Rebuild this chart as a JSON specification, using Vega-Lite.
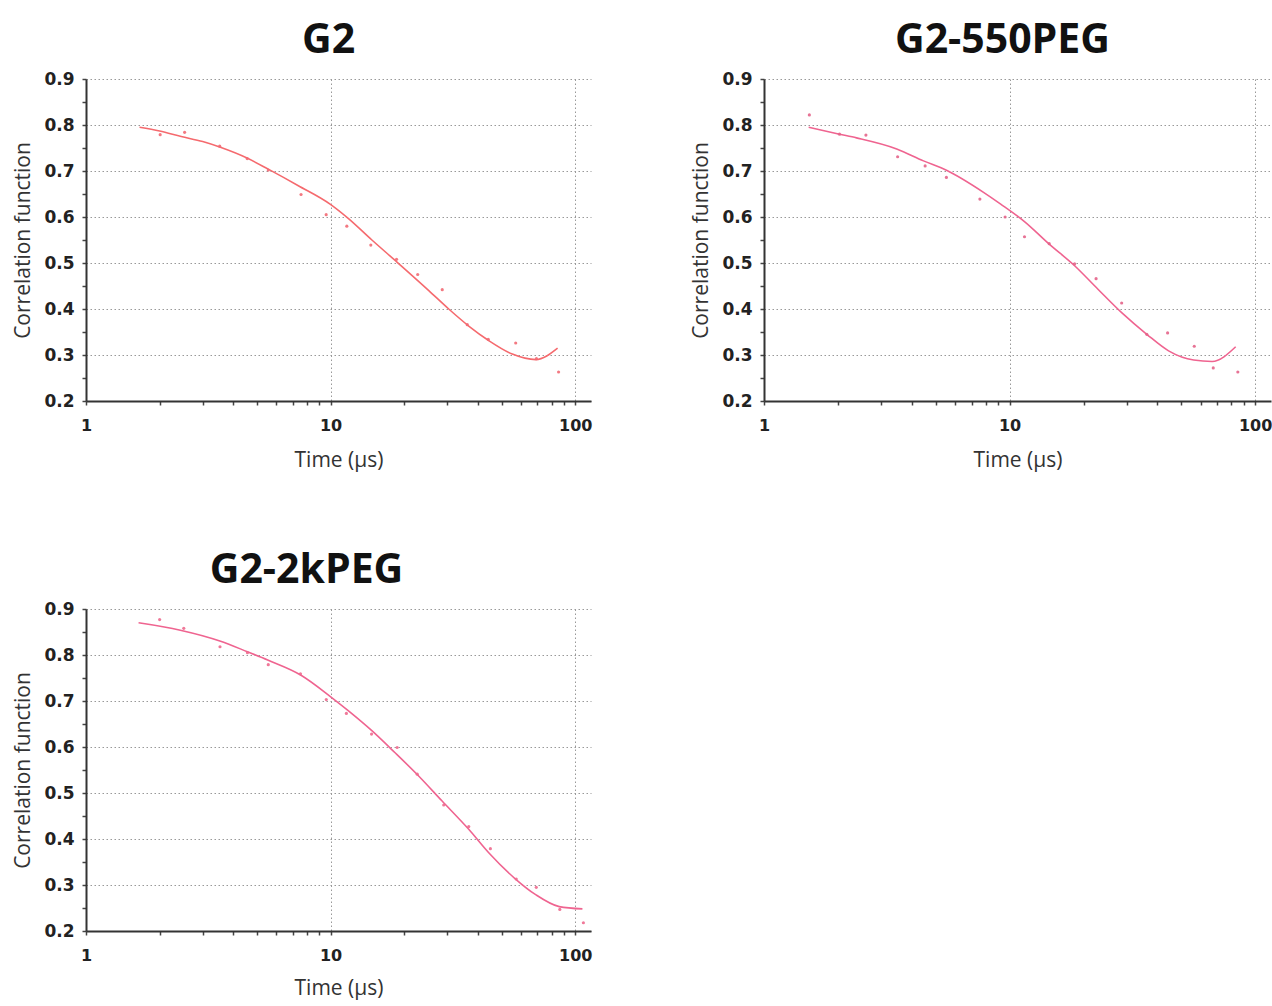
{
  "$schema": "https://vega.github.io/schema/vega-lite/v6.json",
  "background": "white",
  "padding": {"left": 12, "top": 20, "right": 0, "bottom": 2},
  "datasets": {
    "g2": [
      {"series": "fit", "t": 1.655, "g": 0.795}, {"series": "fit", "t": 2.0, "g": 0.787}, {"series": "fit", "t": 2.45, "g": 0.775},
      {"series": "fit", "t": 3.0, "g": 0.764},
      {"series": "fit", "t": 3.52, "g": 0.752}, {"series": "fit", "t": 4.6, "g": 0.727}, {"series": "fit", "t": 5.56, "g": 0.704},
      {"series": "fit", "t": 7.38, "g": 0.668}, {"series": "fit", "t": 9.95, "g": 0.628}, {"series": "fit", "t": 11.8, "g": 0.597},
      {"series": "fit", "t": 14.75, "g": 0.55}, {"series": "fit", "t": 18.4, "g": 0.505}, {"series": "fit", "t": 25.2, "g": 0.44},
      {"series": "fit", "t": 30.4, "g": 0.4}, {"series": "fit", "t": 36.7, "g": 0.363}, {"series": "fit", "t": 44.4, "g": 0.331},
      {"series": "fit", "t": 55.3, "g": 0.302}, {"series": "fit", "t": 69, "g": 0.29}, {"series": "fit", "t": 84.7, "g": 0.315},
      {"series": "data", "t": 2.01, "g": 0.779}, {"series": "data", "t": 2.53, "g": 0.784}, {"series": "data", "t": 3.52, "g": 0.754},
      {"series": "data", "t": 4.56, "g": 0.727}, {"series": "data", "t": 5.56, "g": 0.702}, {"series": "data", "t": 7.57, "g": 0.649},
      {"series": "data", "t": 9.59, "g": 0.605}, {"series": "data", "t": 11.65, "g": 0.58}, {"series": "data", "t": 14.6, "g": 0.539},
      {"series": "data", "t": 18.6, "g": 0.508}, {"series": "data", "t": 22.7, "g": 0.475}, {"series": "data", "t": 28.6, "g": 0.442},
      {"series": "data", "t": 36.2, "g": 0.366}, {"series": "data", "t": 44.1, "g": 0.334}, {"series": "data", "t": 57.1, "g": 0.326},
      {"series": "data", "t": 69.4, "g": 0.292}, {"series": "data", "t": 85.5, "g": 0.263}
    ],
    "g2_550": [
      {"series": "fit", "t": 1.52, "g": 0.795}, {"series": "fit", "t": 2.03, "g": 0.78}, {"series": "fit", "t": 2.38, "g": 0.772},
      {"series": "fit", "t": 3.47, "g": 0.748}, {"series": "fit", "t": 4.46, "g": 0.722}, {"series": "fit", "t": 5.56, "g": 0.701},
      {"series": "fit", "t": 7.86, "g": 0.653}, {"series": "fit", "t": 9.2, "g": 0.628}, {"series": "fit", "t": 11.5, "g": 0.59},
      {"series": "fit", "t": 14.5, "g": 0.541}, {"series": "fit", "t": 18.4, "g": 0.494}, {"series": "fit", "t": 22.9, "g": 0.443},
      {"series": "fit", "t": 28.6, "g": 0.392}, {"series": "fit", "t": 36.2, "g": 0.345}, {"series": "fit", "t": 44.4, "g": 0.309},
      {"series": "fit", "t": 56.2, "g": 0.289}, {"series": "fit", "t": 66.8, "g": 0.286}, {"series": "fit", "t": 83.3, "g": 0.318},
      {"series": "data", "t": 1.53, "g": 0.822}, {"series": "data", "t": 2.03, "g": 0.78}, {"series": "data", "t": 2.6, "g": 0.778},
      {"series": "data", "t": 3.5, "g": 0.731}, {"series": "data", "t": 4.53, "g": 0.711}, {"series": "data", "t": 5.53, "g": 0.686},
      {"series": "data", "t": 7.57, "g": 0.639}, {"series": "data", "t": 9.59, "g": 0.6}, {"series": "data", "t": 11.5, "g": 0.557},
      {"series": "data", "t": 14.5, "g": 0.542}, {"series": "data", "t": 18.4, "g": 0.498}, {"series": "data", "t": 22.5, "g": 0.466},
      {"series": "data", "t": 28.6, "g": 0.413}, {"series": "data", "t": 36.2, "g": 0.345}, {"series": "data", "t": 44, "g": 0.348},
      {"series": "data", "t": 56.5, "g": 0.319}, {"series": "data", "t": 67.5, "g": 0.272}, {"series": "data", "t": 85, "g": 0.263}
    ],
    "g2_2k": [
      {"series": "fit", "t": 1.64, "g": 0.87}, {"series": "fit", "t": 2.43, "g": 0.854}, {"series": "fit", "t": 3.55, "g": 0.83},
      {"series": "fit", "t": 4.57, "g": 0.807}, {"series": "fit", "t": 5.53, "g": 0.789}, {"series": "fit", "t": 7.57, "g": 0.756},
      {"series": "fit", "t": 10.07, "g": 0.708}, {"series": "fit", "t": 11.8, "g": 0.679}, {"series": "fit", "t": 14.7, "g": 0.636},
      {"series": "fit", "t": 18.3, "g": 0.588}, {"series": "fit", "t": 22.9, "g": 0.537}, {"series": "fit", "t": 28.5, "g": 0.483},
      {"series": "fit", "t": 36.7, "g": 0.421}, {"series": "fit", "t": 44.3, "g": 0.37}, {"series": "fit", "t": 57.0, "g": 0.313},
      {"series": "fit", "t": 68.9, "g": 0.279}, {"series": "fit", "t": 86, "g": 0.253}, {"series": "fit", "t": 107, "g": 0.248},
      {"series": "data", "t": 2.0, "g": 0.877}, {"series": "data", "t": 2.51, "g": 0.858}, {"series": "data", "t": 3.53, "g": 0.818},
      {"series": "data", "t": 4.57, "g": 0.805}, {"series": "data", "t": 5.56, "g": 0.779}, {"series": "data", "t": 7.53, "g": 0.759},
      {"series": "data", "t": 9.6, "g": 0.703}, {"series": "data", "t": 11.6, "g": 0.673}, {"series": "data", "t": 14.7, "g": 0.628},
      {"series": "data", "t": 18.7, "g": 0.599}, {"series": "data", "t": 22.6, "g": 0.541}, {"series": "data", "t": 29, "g": 0.474},
      {"series": "data", "t": 36.7, "g": 0.427}, {"series": "data", "t": 45, "g": 0.379}, {"series": "data", "t": 57.4, "g": 0.313},
      {"series": "data", "t": 69.3, "g": 0.295}, {"series": "data", "t": 86.5, "g": 0.247}, {"series": "data", "t": 108, "g": 0.218}
    ]
  },
  "config": {
    "view": {"stroke": null},
    "font": "Open Sans",
    "title": {"fontSize": 41, "fontWeight": "bold", "font": "Open Sans", "color": "#111", "anchor": "middle", "offset": 8},
    "axis": {
      "domainColor": "#333", "domainWidth": 2, "tickColor": "#444", "tickSize": 4, "tickWidth": 1.5,
      "labelFont": "DejaVu Sans", "labelFontWeight": "bold", "labelFontSize": 17, "labelColor": "#222",
      "titleFont": "Open Sans", "titleFontWeight": "normal", "titleFontSize": 21, "titleColor": "#333",
      "gridColor": "#999", "gridDash": [1.5, 2.5], "gridWidth": 1
    },
    "axisX": {"labelFontSize": 16}
  },
  "columns": 2,
  "spacing": {"column": 98, "row": 80},
  "concat": [
    {
      "title": {"text": "G2", "dx": -10},
      "width": 505, "height": 322,
      "data": {"name": "g2"},
      "encoding": {
        "x": {"field": "t", "type": "quantitative", "scale": {"type": "log", "domain": [1, 116], "nice": false},
          "axis": {"title": "Time (µs)", "titlePadding": 16, "labelPadding": 12, "labelFlush": false,
            "values": [1,2,3,4,5,6,7,8,9,10,20,30,40,50,60,70,80,90,100],
            "labelExpr": "(datum.value==1||datum.value==10||datum.value==100) ? datum.label : ''",
            "gridOpacity": {"condition": {"test": "datum.value==1||datum.value==10||datum.value==100", "value": 1}, "value": 0}}},
        "y": {"field": "g", "type": "quantitative", "scale": {"domain": [0.2, 0.9], "nice": false, "zero": false},
          "axis": {"title": "Correlation function", "titlePadding": 10, "labelPadding": 8,
            "values": [0.2,0.25,0.3,0.35,0.4,0.45,0.5,0.55,0.6,0.65,0.7,0.75,0.8,0.85,0.9],
            "labelExpr": "abs(datum.value*10-round(datum.value*10))<0.001 ? format(datum.value,'.1f') : ''",
            "gridOpacity": {"condition": {"test": "abs(datum.value*10-round(datum.value*10))<0.001", "value": 1}, "value": 0}}}
      },
      "layer": [
        {"transform": [{"filter": "datum.series=='fit'"}], "mark": {"type": "line", "color": "#f56a6e", "strokeWidth": 1.6, "interpolate": "monotone"}},
        {"transform": [{"filter": "datum.series=='data'"}], "mark": {"type": "point", "filled": true, "color": "#f26a74", "size": 10, "opacity": 0.9}}
      ]
    },
    {
      "title": {"text": "G2-550PEG", "dx": -15},
      "width": 507, "height": 322,
      "data": {"name": "g2_550"},
      "encoding": {
        "x": {"field": "t", "type": "quantitative", "scale": {"type": "log", "domain": [1, 116], "nice": false},
          "axis": {"title": "Time (µs)", "titlePadding": 16, "labelPadding": 12, "labelFlush": false,
            "values": [1,2,3,4,5,6,7,8,9,10,20,30,40,50,60,70,80,90,100],
            "labelExpr": "(datum.value==1||datum.value==10||datum.value==100) ? datum.label : ''",
            "gridOpacity": {"condition": {"test": "datum.value==1||datum.value==10||datum.value==100", "value": 1}, "value": 0}}},
        "y": {"field": "g", "type": "quantitative", "scale": {"domain": [0.2, 0.9], "nice": false, "zero": false},
          "axis": {"title": "Correlation function", "titlePadding": 10, "labelPadding": 8,
            "values": [0.2,0.25,0.3,0.35,0.4,0.45,0.5,0.55,0.6,0.65,0.7,0.75,0.8,0.85,0.9],
            "labelExpr": "abs(datum.value*10-round(datum.value*10))<0.001 ? format(datum.value,'.1f') : ''",
            "gridOpacity": {"condition": {"test": "abs(datum.value*10-round(datum.value*10))<0.001", "value": 1}, "value": 0}}}
      },
      "layer": [
        {"transform": [{"filter": "datum.series=='fit'"}], "mark": {"type": "line", "color": "#ef6490", "strokeWidth": 1.6, "interpolate": "monotone"}},
        {"transform": [{"filter": "datum.series=='data'"}], "mark": {"type": "point", "filled": true, "color": "#e4648a", "size": 10, "opacity": 0.9}}
      ]
    },
    {
      "title": {"text": "G2-2kPEG", "dx": -32},
      "width": 505, "height": 322,
      "data": {"name": "g2_2k"},
      "encoding": {
        "x": {"field": "t", "type": "quantitative", "scale": {"type": "log", "domain": [1, 116], "nice": false},
          "axis": {"title": "Time (µs)", "titlePadding": 14, "labelPadding": 12, "labelFlush": false,
            "values": [1,2,3,4,5,6,7,8,9,10,20,30,40,50,60,70,80,90,100],
            "labelExpr": "(datum.value==1||datum.value==10||datum.value==100) ? datum.label : ''",
            "gridOpacity": {"condition": {"test": "datum.value==1||datum.value==10||datum.value==100", "value": 1}, "value": 0}}},
        "y": {"field": "g", "type": "quantitative", "scale": {"domain": [0.2, 0.9], "nice": false, "zero": false},
          "axis": {"title": "Correlation function", "titlePadding": 10, "labelPadding": 8,
            "values": [0.2,0.25,0.3,0.35,0.4,0.45,0.5,0.55,0.6,0.65,0.7,0.75,0.8,0.85,0.9],
            "labelExpr": "abs(datum.value*10-round(datum.value*10))<0.001 ? format(datum.value,'.1f') : ''",
            "gridOpacity": {"condition": {"test": "abs(datum.value*10-round(datum.value*10))<0.001", "value": 1}, "value": 0}}}
      },
      "layer": [
        {"transform": [{"filter": "datum.series=='fit'"}], "mark": {"type": "line", "color": "#ef6490", "strokeWidth": 1.6, "interpolate": "monotone"}},
        {"transform": [{"filter": "datum.series=='data'"}], "mark": {"type": "point", "filled": true, "color": "#ee6a8e", "size": 10, "opacity": 0.9}}
      ]
    }
  ]
}
